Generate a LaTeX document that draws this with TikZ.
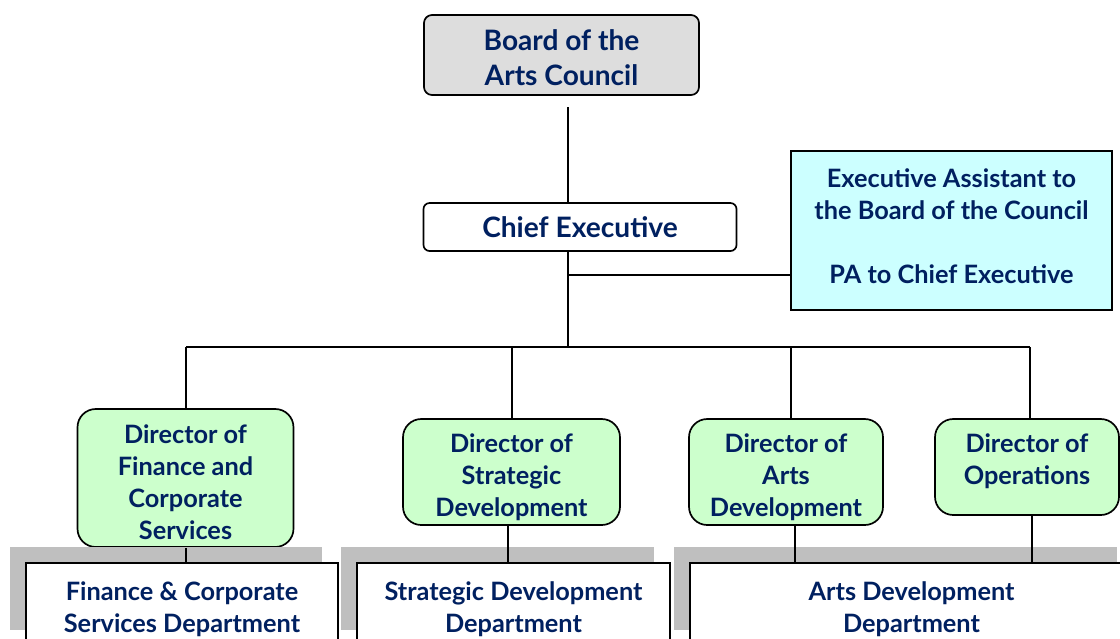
\documentclass[tikz,border=0pt]{standalone}
\usepackage{fontspec}
\setmainfont{Lato}
\usetikzlibrary{shadows}

\definecolor{navy}{RGB}{0,32,96}
\definecolor{boardgray}{RGB}{221,221,221}
\definecolor{paleblue}{RGB}{204,255,255}
\definecolor{palegreen}{RGB}{204,255,204}
\definecolor{shadowgray}{RGB}{191,191,191}
\newlength{\pxu}
\setlength{\pxu}{0.025cm}

\begin{document}
\begin{tikzpicture}[x=0.025cm, y=-0.025cm, line width=1.1pt]
   \tikzstyle{every node}=[align=center, text=navy, inner sep=0pt, line width=1.2pt, font=\bfseries\fontsize{18}{22.7}\selectfont]
   \tikzstyle{big}=[font=\bfseries\fontsize{20}{24.8}\selectfont]
   \tikzstyle{board}=[draw, big, fill=boardgray, rounded corners=5.7pt]
   \tikzstyle{chief}=[draw, big, fill=white, rounded corners=4.3pt]
   \tikzstyle{assist}=[draw, fill=paleblue, line width=1.6pt]
   \tikzstyle{director}=[draw, fill=palegreen, rounded corners=13pt]
   \tikzstyle{dept}=[draw, fill=white, minimum height=83*\pxu, drop shadow={shadow xshift=-0.4cm, shadow yshift=0.4cm, fill=shadowgray, opacity=1}]

\useasboundingbox (0,0) rectangle (1120,639);
\clip (0,0) rectangle (1120,639);

% top of the chart
\node[board, minimum width=275*\pxu, minimum height=80*\pxu,
      label={[big, name=boardtext, yshift=-3*\pxu]center:{Board of the\\Arts Council}}] (board) at (561.5,55) {};
\node[chief, minimum width=313*\pxu, minimum height=48*\pxu] (chief) at (580,227) {Chief Executive};
\node[assist, minimum width=321*\pxu, minimum height=159*\pxu,
      label={[name=assisttext, yshift=4*\pxu]center:{Executive Assistant to\\the Board of the Council\\ ~\\PA to Chief Executive}}] (assist) at (951.5,230.5) {};

% directors
\node[director, minimum width=216*\pxu, minimum height=138*\pxu,
      label={[name=dfintext, yshift=-4.5*\pxu]center:{Director of\\Finance and\\Corporate\\Services}}] (dfin) at (185.5,478) {};
\node[director, minimum width=217*\pxu, minimum height=106*\pxu,
      label={[name=dstrtext, yshift=-5*\pxu]center:{Director of\\Strategic\\Development}}] (dstr) at (511.5,472) {};
\node[director, minimum width=194*\pxu, minimum height=106*\pxu,
      label={[name=dartstext, yshift=-5*\pxu]center:{Director of\\Arts\\Development}}] (darts) at (786,472) {};
\node[director, minimum width=184*\pxu, minimum height=96*\pxu,
      label={[name=dopstext, yshift=6*\pxu]center:{Director of\\Operations}}] (dops) at (1027,467) {};

% departments
\node[dept, minimum width=312*\pxu,
      label={[name=findepttext, yshift=-5*\pxu]center:{Finance \& Corporate\\Services Department}}] (findept) at (182,604.5) {};
\node[dept, minimum width=313*\pxu,
      label={[name=strdepttext, yshift=-5*\pxu]center:{Strategic Development\\Department}}] (strdept) at (513.5,604.5) {};
\node[dept, minimum width=443*\pxu,
      label={[name=artsdepttext, yshift=-5*\pxu]center:{Arts Development\\Department}}] (artsdept) at (911.5,604.5) {};

% connectors
\coordinate (top) at (568,107);
\coordinate (tap) at (568,275);
\coordinate (hub) at (568,347);
\draw (top) -- (top |- chief.north);
\draw (hub |- chief.south) -- (hub);
\draw (tap) -- (tap -| assist.west);
\draw (186,0 |- hub) -- (1030,0 |- hub);
\foreach \n/\x in {dfin/186, dstr/512, darts/791, dops/1030}
    \draw (\x,0 |- hub) -- (\x,0 |- \n.north);
\foreach \n/\d/\x in {dfin/findept/186, dstr/strdept/508, darts/artsdept/795, dops/artsdept/1032}
    \draw (\x,0 |- \n.south) -- (\x,0 |- \d.north);

\end{tikzpicture}
\end{document}
